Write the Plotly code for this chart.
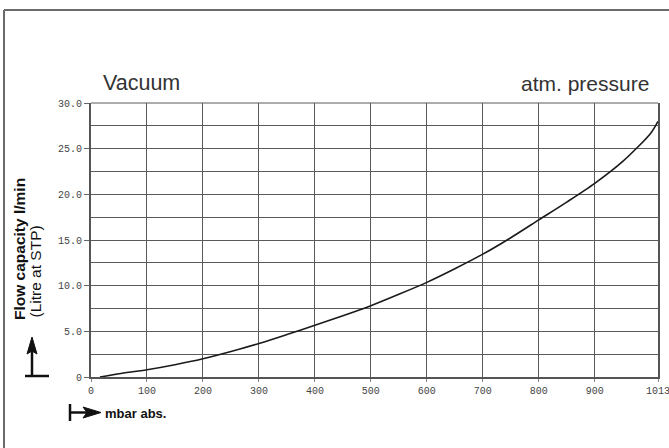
import plotly.graph_objects as go

# ---- data ----
pressure_mbar = [16, 50, 100, 150, 200, 250, 300, 350, 400, 450, 500, 550,
                 600, 650, 700, 750, 800, 850, 900, 950, 1000, 1013]
flow_l_min = [0.0, 0.35, 0.8, 1.35, 2.0, 2.8, 3.67, 4.65, 5.67, 6.7, 7.8, 9.05,
              10.36, 11.85, 13.45, 15.25, 17.2, 19.15, 21.2, 23.6, 26.7, 28.0]
x_tickvals = [0, 100, 200, 300, 400, 500, 600, 700, 800, 900, 1013]
x_ticktext = ["0", "100", "200", "300", "400", "500", "600", "700", "800", "900", "1013"]
y_tickvals = [0, 5, 10, 15, 20, 25, 30]
y_ticktext = ["0", "5.0", "10.0", "15.0", "20.0", "25.0", "30.0"]

W, H = 669, 448
L, R, T, B = 91, 658, 103, 377


def px(x):
    return (x - L) / (R - L)


def py(y):
    return (B - y) / (B - T)


fig = go.Figure()
fig.add_trace(go.Scatter(
    x=pressure_mbar, y=flow_l_min, mode="lines",
    line=dict(color="#1a1a1a", width=1.6, shape="spline", smoothing=0.8),
    hoverinfo="skip", showlegend=False,
))

tickfont = dict(family="Liberation Mono", size=10, color="#444444")
grid = "#5a5a5a"

fig.update_xaxes(
    range=[0, 1013], tickvals=x_tickvals, ticktext=x_ticktext,
    showgrid=True, gridcolor=grid, gridwidth=1,
    showline=True, linecolor="#555555", linewidth=2, mirror=False,
    ticks="outside", ticklen=3, tickcolor="#888888", tickfont=tickfont,
    ticklabeloverflow="allow",
    zeroline=False, fixedrange=True, automargin=False,
)
fig.update_yaxes(
    range=[0, 30], tickvals=y_tickvals, ticktext=y_ticktext,
    showgrid=True, gridcolor=grid, gridwidth=1,
    minor=dict(dtick=2.5, tick0=0, showgrid=True, gridcolor=grid, gridwidth=1, ticks=""),
    showline=True, linecolor="#555555", linewidth=2, mirror=True,
    ticks="outside", ticklen=5, tickcolor="#666666", tickfont=tickfont,
    zeroline=False, fixedrange=True, automargin=False,
)

shapes = []
# outer frame (top and left lines)
shapes.append(dict(type="line", xref="paper", yref="paper",
                   x0=px(4), y0=py(10), x1=px(669), y1=py(10),
                   line=dict(color="#6a6a6a", width=2)))
shapes.append(dict(type="line", xref="paper", yref="paper",
                   x0=px(4), y0=py(10), x1=px(4), y1=py(448),
                   line=dict(color="#6a6a6a", width=2)))
# top edge of plot
shapes.append(dict(type="line", xref="paper", yref="paper",
                   x0=0, y0=1, x1=1, y1=1, line=dict(color=grid, width=1)))
# vertical arrow (y axis)
shapes.append(dict(type="line", xref="paper", yref="paper",
                   x0=px(32), y0=py(376), x1=px(32), y1=py(350),
                   line=dict(color="#111111", width=2.5)))
shapes.append(dict(type="line", xref="paper", yref="paper",
                   x0=px(25), y0=py(376), x1=px(49), y1=py(376),
                   line=dict(color="#111111", width=2.5)))
shapes.append(dict(type="path", xref="paper", yref="paper",
                   path=f"M {px(32)} {py(337)} L {px(37)} {py(354)} L {px(32)} {py(351)} L {px(27)} {py(354)} Z",
                   fillcolor="#111111", line=dict(color="#111111", width=1)))
# horizontal arrow (x axis)
shapes.append(dict(type="line", xref="paper", yref="paper",
                   x0=px(70), y0=py(404), x1=px(70), y1=py(421),
                   line=dict(color="#111111", width=2.5)))
shapes.append(dict(type="line", xref="paper", yref="paper",
                   x0=px(70), y0=py(412.5), x1=px(88), y1=py(412.5),
                   line=dict(color="#111111", width=2.5)))
shapes.append(dict(type="path", xref="paper", yref="paper",
                   path=f"M {px(101)} {py(412.5)} L {px(83)} {py(407)} L {px(87)} {py(412.5)} L {px(83)} {py(418)} Z",
                   fillcolor="#111111", line=dict(color="#111111", width=1)))

annotations = [
    dict(text="Vacuum", xref="paper", yref="paper", x=px(101), y=py(83),
         xanchor="left", yanchor="middle", showarrow=False,
         font=dict(family="Liberation Sans", size=21.5, color="#333333")),
    dict(text="atm. pressure", xref="paper", yref="paper", x=px(651), y=py(83),
         xanchor="right", yanchor="middle", showarrow=False,
         font=dict(family="Liberation Sans", size=21, color="#333333")),
    dict(text="<b>Flow capacity l/min</b>", xref="paper", yref="paper", x=px(19), y=py(249),
         xanchor="center", yanchor="middle", textangle=-90, showarrow=False,
         font=dict(family="Liberation Sans", size=15.5, color="#111111")),
    dict(text="(Litre at STP)", xref="paper", yref="paper", x=px(34.5), y=py(272),
         xanchor="center", yanchor="middle", textangle=-90, showarrow=False,
         font=dict(family="Liberation Sans", size=15.5, color="#111111")),
    dict(text="<b>mbar abs.</b>", xref="paper", yref="paper", x=px(103), y=py(413),
         xanchor="left", yanchor="middle", showarrow=False,
         font=dict(family="Liberation Sans", size=13, color="#111111")),
]

fig.update_layout(
    width=W, height=H,
    margin=dict(l=L, r=W - R, t=T, b=H - B, pad=0, autoexpand=False),
    paper_bgcolor="white", plot_bgcolor="white",
    shapes=shapes, annotations=annotations, showlegend=False,
)

fig.write_html(
    "out.html",
    config={"displayModeBar": False},
    post_script="document.body.style.margin='0';document.body.style.overflow='hidden';",
)
